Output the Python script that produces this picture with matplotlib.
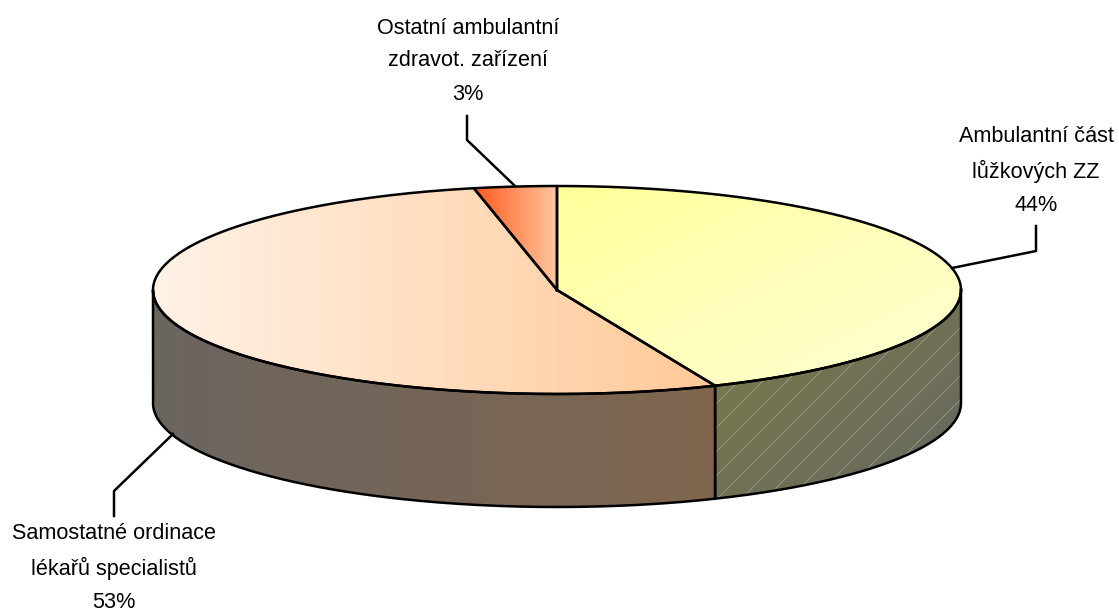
import numpy as np
import matplotlib
matplotlib.use("Agg")
import matplotlib.pyplot as plt
from matplotlib.path import Path
from matplotlib.patches import PathPatch
from matplotlib.colors import LinearSegmentedColormap

plt.rcParams['font.family'] = ['Liberation Sans', 'DejaVu Sans']

labels = ["Ambulantní část\nlůžkových ZZ", "Samostatné ordinace\nlékařů specialistů", "Ostatní ambulantní\nzdravot. zařízení"]
values = [43.6, 53.1, 3.3]

cx, cy = 557, 290
rx, ry = 404, 104
depth = 113


def pt(deg, dy=0):
    # clockwise from 12 o'clock
    t = np.radians(deg)
    return cx + rx * np.sin(t), cy - ry * np.cos(t) + dy


def arc(a, b, dy=0):
    t = np.linspace(a, b, 200)
    x, y = pt(t, dy)
    return np.column_stack([x, y])


def gradient(ax, verts, colors, angle=0):
    # linear gradient clipped to polygon, angle 0 = left to right
    verts = np.asarray(verts)
    x0, x1 = verts[:, 0].min(), verts[:, 0].max()
    y0, y1 = verts[:, 1].min(), verts[:, 1].max()
    xx, yy = np.meshgrid(np.linspace(0, 1, 300), np.linspace(0, 1, 300))
    if angle == 0:
        g = xx
    else:
        g = (xx + yy) / 2
    cmap = LinearSegmentedColormap.from_list("g", colors, N=512)
    im = ax.imshow(g, extent=(x0, x1, y1, y0), cmap=cmap, aspect='auto', zorder=1, interpolation='bilinear')
    patch = PathPatch(Path(np.vstack([verts, verts[:1]])), transform=ax.transData)
    im.set_clip_path(patch)


fig = plt.figure(figsize=(11.19, 6.14), dpi=100)
ax = fig.add_axes([0, 0, 1, 1])

# slice angles
a1 = values[0] / sum(values) * 360
a2 = a1 + values[1] / sum(values) * 360

# sides
side_r = np.vstack([arc(90, a1), arc(a1, 90, depth)])
side_l = np.vstack([arc(a1, 270), arc(270, a1, depth)])
gradient(ax, side_r, ["#7c7c4a", "#666660"], 1)
gradient(ax, side_l, ["#6b6661", "#80654e"], 0)

# hatch on the right side
clip = PathPatch(Path(np.vstack([side_r, side_r[:1]])), transform=ax.transData)
for x in range(400, 1100, 24):
    ln, = ax.plot([x, x + 300], [600, 300], color='white', alpha=0.3, lw=0.6, zorder=2)
    ln.set_clip_path(clip)

# top
top_y = np.vstack([[(cx, cy)], arc(0, a1)])
top_p = np.vstack([[(cx, cy)], arc(a1, a2)])
top_o = np.vstack([[(cx, cy)], arc(a2, 360)])
gradient(ax, top_y, ["#ffff99", "#ffffbb", "#ffffd2"], 1)
gradient(ax, top_p, ["#fff2e6", "#ffc998"], 0)
gradient(ax, top_o, ["#ff5a1e", "#ffc8a0"], 0)

# outlines
for v in (top_y, top_p, top_o, side_r, side_l):
    v = np.vstack([v, v[:1]])
    ax.plot(v[:, 0], v[:, 1], color='black', lw=1.8, zorder=3, solid_joinstyle='round')

# leader lines
lead_x = [[1036, 1036, 952], [114, 114, 173], [467, 467, 515]]
lead_y = [[226, 251, 268], [516, 491, 434], [116, 140, 186]]
for lx, ly in zip(lead_x, lead_y):
    ax.plot(lx, ly, color='black', lw=1.8, zorder=3)

# text
text_x = [1036, 114, 468]
text_y = [171, 568, 61]
for lab, v, tx, ty in zip(labels, values, text_x, text_y):
    ax.text(tx, ty, f"{lab}\n{round(v)}%", ha='center', va='center', fontsize=15.6,
            linespacing=1.75, color='black', zorder=4)

ax.set_xlim(0, 1119)
ax.set_ylim(614, 0)
ax.axis('off')
fig.savefig("out.png", dpi=100)
